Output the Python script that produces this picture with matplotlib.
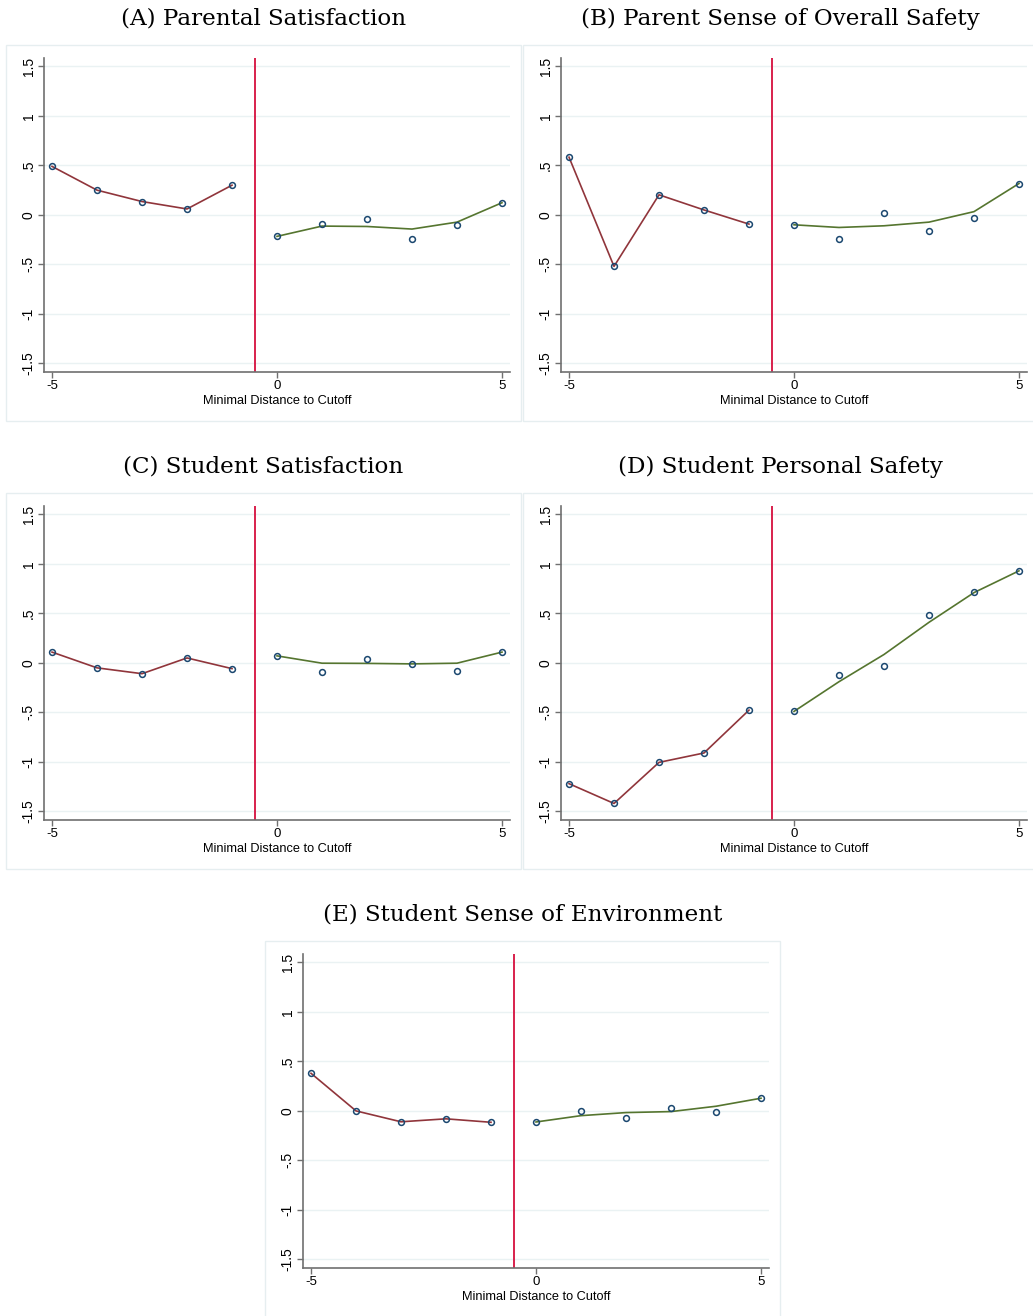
import numpy as np
import matplotlib
matplotlib.use("Agg")
import matplotlib.pyplot as plt
from matplotlib.patches import Rectangle

# binned means (points) and fitted lines on each side of the cutoff
left_x = [-5, -4, -3, -2, -1]
right_x = [0, 1, 2, 3, 4, 5]

titles = ["(A) Parental Satisfaction",
          "(B) Parent Sense of Overall Safety",
          "(C) Student Satisfaction",
          "(D) Student Personal Safety",
          "(E) Student Sense of Environment"]

a_left = [0.49, 0.25, 0.135, 0.06, 0.30]
a_pts = [-0.217, -0.087, -0.043, -0.247, -0.097, 0.123]
a_fit = [-0.217, -0.113, -0.117, -0.143, -0.073, 0.123]

b_left = [0.583, -0.52, 0.203, 0.05, -0.093]
b_pts = [-0.10, -0.24, 0.017, -0.163, -0.033, 0.317]
b_fit = [-0.10, -0.127, -0.11, -0.073, 0.033, 0.317]

c_left = [0.109, -0.05, -0.109, 0.05, -0.058]
c_pts = [0.071, -0.092, 0.038, -0.01, -0.078, 0.109]
c_fit = [0.071, -0.003, -0.005, -0.01, -0.003, 0.109]

d_left = [-1.22, -1.42, -1.005, -0.91, -0.477]
d_pts = [-0.49, -0.12, -0.03, 0.48, 0.72, 0.93]
d_fit = [-0.49, -0.19, 0.085, 0.41, 0.71, 0.93]

e_left = [0.38, 0.0, -0.11, -0.08, -0.115]
e_pts = [-0.112, 0.003, -0.075, 0.03, -0.01, 0.128]
e_fit = [-0.112, -0.048, -0.017, -0.007, 0.047, 0.128]

cutoff = -0.5
yticks = [-1.5, -1, -0.5, 0, 0.5, 1, 1.5]
ytick_labels = ["-1.5", "-1", "-.5", "0", ".5", "1", "1.5"]
xticks = [-5, 0, 5]

W, H = 1033, 1316
NAVY = "#1a476f"
MAROON = "#90353b"
GREEN = "#55752f"
CUT = "#d8204c"
FRAME = "#e6eef0"
GRID = "#eaf2f3"

fig = plt.figure(figsize=(W / 100, H / 100), dpi=100)


def box(x0, y0, x1, y1):
    # pixel box (top-left origin) -> figure fraction rect
    return [x0 / W, 1 - y1 / H, (x1 - x0) / W, (y1 - y0) / H]


def panel(dx, dy, title, left, pts, fit):
    # outer graph region frame
    fx0, fy0, fx1, fy1 = 6 + dx, 45 + dy, 521 + dx, 421 + dy
    fig.patches.append(Rectangle((fx0 / W, 1 - fy1 / H), (fx1 - fx0) / W, (fy1 - fy0) / H,
                                 transform=fig.transFigure, fill=False,
                                 edgecolor=FRAME, linewidth=1.0))
    fig.text((fx0 + fx1) / 2 / W, 1 - (19 + dy) / H, title, ha="center", va="center",
             fontsize=16.6, family="DejaVu Serif")

    ax = fig.add_axes(box(44 + dx, 58 + dy, 510 + dx, 372 + dy))
    ax.set_xlim(-5.178, 5.178)
    ax.set_ylim(-1.587, 1.585)
    for s in ["top", "right"]:
        ax.spines[s].set_visible(False)
    for s in ["left", "bottom"]:
        ax.spines[s].set_color("#707070")
        ax.spines[s].set_linewidth(1.2)
    ax.set_yticks(yticks)
    ax.set_yticklabels(ytick_labels, rotation=90, va="center",
                       family="Liberation Sans", fontsize=10)
    ax.set_xticks(xticks)
    ax.set_xticklabels([str(v) for v in xticks], family="Liberation Sans", fontsize=9.5)
    ax.tick_params(length=4, width=1, color="#707070", pad=2)
    ax.grid(axis="y", color=GRID, linewidth=1.0)
    ax.set_axisbelow(True)
    ax.set_xlabel("Minimal Distance to Cutoff", family="Liberation Sans",
                  fontsize=9.2, labelpad=2)

    ax.axvline(cutoff, color=CUT, linewidth=1.4, zorder=2)
    ax.plot(left_x, left, color=MAROON, linewidth=1.2, zorder=3)
    ax.plot(right_x, fit, color=GREEN, linewidth=1.2, zorder=3)
    ax.plot(left_x + right_x, left + pts, linestyle="none", marker="o",
            markersize=4.2, markerfacecolor="none", markeredgecolor=NAVY,
            markeredgewidth=1.1, zorder=4)
    return ax


panel(0, 0, titles[0], a_left, a_pts, a_fit)
panel(517, 0, titles[1], b_left, b_pts, b_fit)
panel(0, 448, titles[2], c_left, c_pts, c_fit)
panel(517, 448, titles[3], d_left, d_pts, d_fit)
panel(259, 896, titles[4], e_left, e_pts, e_fit)

fig.savefig("out.png", dpi=100)
